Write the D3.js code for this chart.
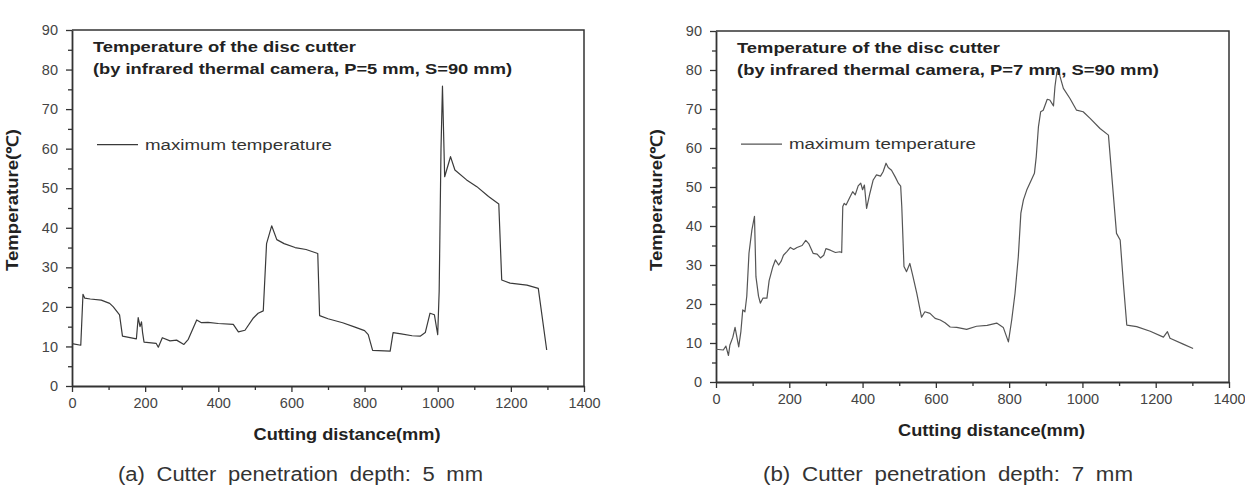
<!DOCTYPE html>
<html>
<head>
<meta charset="utf-8">
<script src="https://cdn.jsdelivr.net/npm/d3@7"></script>
<style>
  body { margin: 0; background: #fff; }
  text { font-family: "Liberation Sans", Arial, sans-serif; }
</style>
</head>
<body>
<svg id="chart" width="1245" height="486"></svg>
<script>
// cutting distance (mm) / max temperature, P=5 mm
const dist5 = [0, 24, 30, 35, 50, 80, 103, 113, 130, 138, 176, 181, 186, 190, 193, 197, 230, 236, 247, 268, 286, 306, 318,
  341, 354, 372, 400, 441, 455, 473, 496, 509, 523, 532, 546, 560, 580, 610, 640, 672, 677, 700, 740, 770, 800, 810, 822,
  870, 878, 900, 930, 952, 966, 979, 991, 997, 1000, 1004, 1009, 1013, 1019, 1031, 1035, 1047, 1079, 1107, 1139, 1167,
  1175, 1198, 1244, 1275, 1298];
const temp5 = [10.7, 10.3, 23.2, 22.2, 22.0, 21.7, 20.9, 20.0, 18.0, 12.6, 11.9, 17.3, 15.0, 16.2, 13.5, 11.1, 10.8, 9.8, 12.2,
  11.4, 11.6, 10.5, 11.8, 16.7, 16.0, 16.1, 15.8, 15.6, 13.7, 14.1, 17.2, 18.4, 19.0, 36.0, 40.5, 37.0, 36.0, 35.0, 34.5,
  33.5, 17.8, 17.0, 16.0, 15.0, 14.0, 13.0, 9.0, 8.8, 13.5, 13.2, 12.7, 12.6, 13.5, 18.4, 18.0, 14.6, 13.0, 24.0, 60.0,
  75.8, 52.9, 56.7, 58.0, 54.6, 52.1, 50.4, 47.9, 46.0, 26.8, 26.0, 25.5, 24.7, 9.1];

// cutting distance (mm) / max temperature, P=7 mm
const dist7 = [0, 20, 27, 34, 38, 46, 52, 58, 62, 68, 73, 79, 84, 90, 98, 105, 109, 116, 121, 128, 139, 145, 155, 162, 171,
  178, 184, 194, 203, 212, 221, 235, 245, 253, 265, 276, 285, 294, 300, 312, 326, 338, 343, 346, 350, 355, 366, 373, 380,
  388, 395, 400, 405, 411, 420, 429, 438, 449, 456, 464, 470, 479, 489, 498, 504, 507, 513, 520, 529, 537, 548, 561, 570,
  584, 598, 612, 625, 639, 657, 684, 711, 740, 766, 784, 798, 807, 816, 825, 832, 839, 848, 869, 874, 880, 886, 893, 904,
  911, 921, 925, 930, 934, 939, 948, 966, 984, 1002, 1021, 1048, 1071, 1093, 1103, 1112, 1121, 1148, 1185, 1221, 1232,
  1239, 1275, 1302];
const temp7 = [8.4, 8.2, 9.2, 6.8, 9.5, 11.5, 14.0, 11.0, 9.0, 13.0, 18.5, 18.0, 22.0, 33.0, 39.0, 42.5, 27.0, 22.0, 20.2,
  21.5, 21.5, 26.0, 29.5, 31.3, 30.0, 31.0, 32.5, 33.5, 34.5, 34.0, 34.5, 35.0, 36.3, 35.5, 33.0, 32.8, 31.8, 32.5, 34.2,
  33.8, 33.2, 33.4, 33.2, 45.0, 45.8, 45.4, 47.5, 48.8, 48.0, 50.3, 51.0, 49.3, 50.5, 44.5, 48.4, 51.8, 53.1, 52.8, 53.9,
  56.1, 55.0, 54.3, 52.6, 50.9, 50.2, 45.0, 29.6, 28.3, 30.4, 27.3, 22.7, 16.6, 18.0, 17.6, 16.3, 15.9, 15.2, 14.1, 14.0,
  13.5, 14.3, 14.5, 15.1, 14.0, 10.3, 15.9, 22.7, 32.1, 43.3, 46.7, 49.2, 53.5, 57.8, 65.5, 69.3, 69.7, 72.5, 72.3, 70.8,
  75.7, 79.3, 80.4, 78.3, 75.3, 72.7, 69.7, 69.3, 67.6, 65.0, 63.3, 38.1, 36.4, 25.0, 14.6, 14.2, 13.0, 11.5, 12.9, 11.2,
  9.7, 8.6];

const xTicks = [0, 200, 400, 600, 800, 1000, 1200, 1400];
const yTicks = [0, 10, 20, 30, 40, 50, 60, 70, 80, 90];
const xTitle = "Cutting distance(mm)";
const yTitle = "Temperature(℃)";
const legendLabel = "maximum temperature";
const notes5 = ["Temperature of the disc cutter", "(by infrared thermal camera, P=5 mm, S=90 mm)"];
const notes7 = ["Temperature of the disc cutter", "(by infrared thermal camera, P=7 mm, S=90 mm)"];
const caption5 = "(a) Cutter penetration depth: 5 mm";
const caption7 = "(b) Cutter penetration depth: 7 mm";

const svg = d3.select("#chart");
svg.append("rect").attr("width", 1245).attr("height", 486).attr("fill", "#fff");

function panel(cfg) {
  const x = d3.scaleLinear().domain([0, 1400]).range([cfg.left, cfg.right]);
  const y = d3.scaleLinear().domain([0, 90]).range([cfg.bottom, cfg.top]);
  const g = svg.append("g");

  // minor ticks
  g.append("g")
    .attr("transform", "translate(0," + cfg.bottom + ")")
    .call(d3.axisBottom(x).tickValues(d3.range(100, 1400, 200)).tickSize(4).tickFormat(""))
    .call(a => a.select(".domain").remove());
  g.append("g")
    .attr("transform", "translate(" + cfg.left + ",0)")
    .call(d3.axisLeft(y).tickValues(d3.range(5, 90, 10)).tickSize(4).tickFormat(""))
    .call(a => a.select(".domain").remove());

  g.append("g")
    .attr("transform", "translate(0," + cfg.bottom + ")")
    .call(d3.axisBottom(x).tickValues(xTicks).tickFormat(d3.format("d"))
      .tickSizeInner(6).tickSizeOuter(0).tickPadding(6));
  g.append("g")
    .attr("transform", "translate(" + cfg.left + ",0)")
    .call(d3.axisLeft(y).tickValues(yTicks).tickFormat(d3.format("d"))
      .tickSizeInner(6).tickSizeOuter(0).tickPadding(8));

  g.selectAll(".tick line").attr("stroke", "#333").attr("stroke-width", 1.3);
  g.selectAll(".domain").attr("stroke", "#333").attr("stroke-width", 1.8);
  g.selectAll(".tick text").attr("fill", "#444").style("font-size", "14.5px");

  // top and right frame
  g.append("path")
    .attr("d", "M" + cfg.left + "," + cfg.top + "H" + cfg.right + "V" + cfg.bottom)
    .attr("fill", "none").attr("stroke", "#333").attr("stroke-width", 1.5);

  const line = d3.line().x(d => x(d[0])).y(d => y(d[1]));
  g.append("path")
    .datum(cfg.dist.map((d, i) => [d, cfg.temp[i]]))
    .attr("d", line)
    .attr("fill", "none")
    .attr("stroke", cfg.color)
    .attr("stroke-width", 1.2)
    .attr("stroke-linejoin", "round");

  // notes inside the frame
  g.selectAll("text.note").data(cfg.notes).enter().append("text")
    .attr("class", "note")
    .attr("x", cfg.left + 21)
    .attr("y", (d, i) => cfg.top + 22 + i * 22)
    .attr("textLength", (d, i) => cfg.noteLen[i])
    .attr("lengthAdjust", "spacingAndGlyphs")
    .style("font-size", "15px").style("font-weight", "bold").attr("fill", "#222")
    .text(d => d);

  // legend
  g.append("line")
    .attr("x1", cfg.left + 25).attr("x2", cfg.left + 66)
    .attr("y1", y(61)).attr("y2", y(61))
    .attr("stroke", cfg.color).attr("stroke-width", 1.2);
  g.append("text")
    .attr("x", cfg.left + 73).attr("y", y(61) + 5)
    .attr("textLength", 187).attr("lengthAdjust", "spacingAndGlyphs")
    .style("font-size", "15.5px").attr("fill", "#333")
    .text(legendLabel);

  g.append("text")
    .attr("x", (cfg.left + cfg.right) / 2 + 19).attr("y", cfg.titleY)
    .attr("text-anchor", "middle")
    .attr("textLength", 187).attr("lengthAdjust", "spacingAndGlyphs")
    .style("font-size", "16px").style("font-weight", "bold").attr("fill", "#222")
    .text(xTitle);

  g.append("text")
    .attr("transform", "translate(" + (cfg.left - 54) + "," + 200 + ") rotate(-90)")
    .attr("text-anchor", "middle")
    .attr("textLength", 142).attr("lengthAdjust", "spacingAndGlyphs")
    .style("font-size", "16px").style("font-weight", "bold").attr("fill", "#222")
    .text(yTitle);

  g.append("text")
    .attr("x", cfg.capX).attr("y", 481)
    .attr("textLength", cfg.capLen).attr("lengthAdjust", "spacingAndGlyphs")
    .style("font-size", "20px").style("word-spacing", "5px").attr("fill", "#333")
    .text(cfg.caption);
}

panel({left: 72, right: 584, top: 30, bottom: 386, dist: dist5, temp: temp5, color: "#3a3a3a",
  notes: notes5, noteLen: [263, 419], titleY: 440, caption: caption5, capX: 118, capLen: 365});
panel({left: 716, right: 1229, top: 31, bottom: 382, dist: dist7, temp: temp7, color: "#555",
  notes: notes7, noteLen: [263, 422], titleY: 436, caption: caption7, capX: 763, capLen: 370});
</script>
</body>
</html>
